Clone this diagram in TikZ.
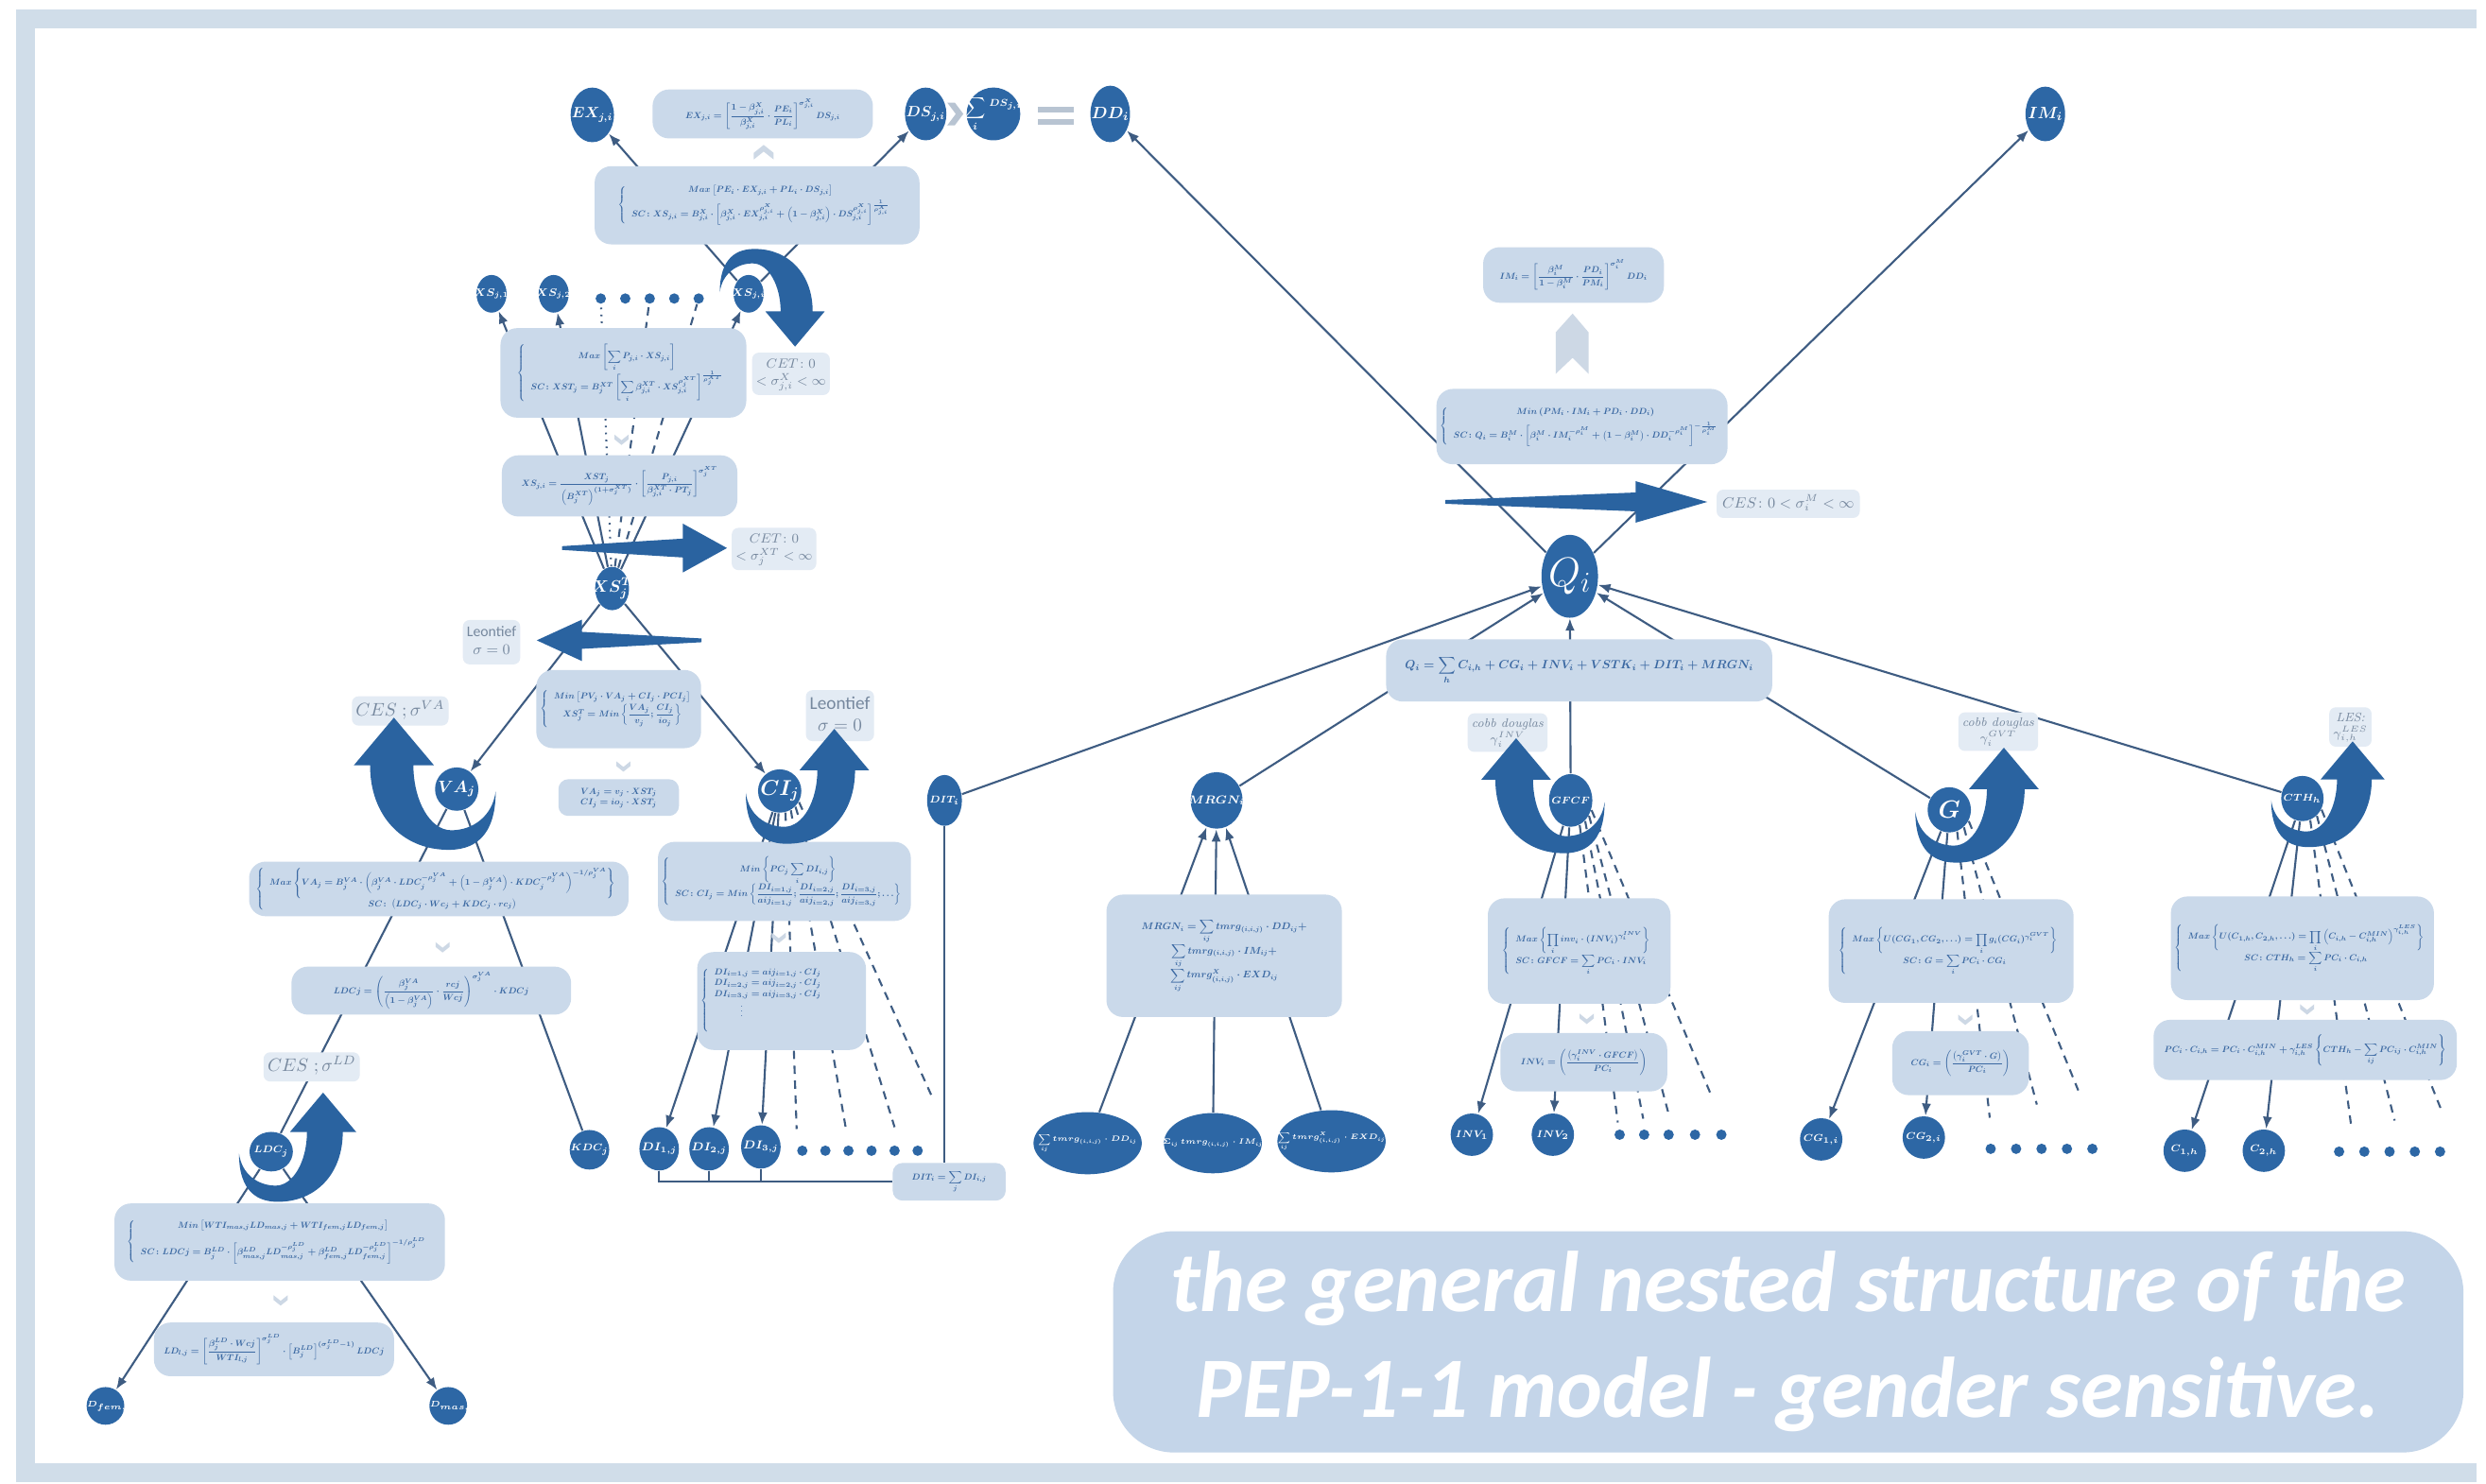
\RequirePackage{fix-cm}
\documentclass[tikz,border=0pt]{standalone}
\usepackage{amsmath}
\usepackage{graphicx}
\usepackage{fontspec}
\newfontfamily\titlefont{Carlito}
\usepackage{tikz}
\usetikzlibrary{arrows.meta,shapes.geometric,backgrounds}
\definecolor{ballblue}{RGB}{45,103,165}
\definecolor{curlblue}{RGB}{42,99,160}
\definecolor{boxblue}{RGB}{202,217,234}
\definecolor{boxtext}{RGB}{58,104,162}
\definecolor{labfill}{RGB}{227,235,244}
\definecolor{labtext}{RGB}{118,136,158}
\definecolor{linkblue}{RGB}{62,92,130}
\definecolor{chevgrey}{RGB}{205,216,229}
\definecolor{eqgrey}{RGB}{184,196,210}
\definecolor{frameblue}{RGB}{208,221,233}
\definecolor{titleblue}{RGB}{196,213,233}
\newcommand{\ballText}[1]{\makebox[0pt]{\scalebox{0.5}{#1}}}
\newcommand{\sm}[1]{\scalebox{0.33}{\begin{tabular}{@{}c@{}}#1\end{tabular}}}
\newcommand{\lb}[1]{\scalebox{0.5}{\begin{tabular}{@{}c@{}}#1\end{tabular}}}
\newcommand{\bsize}[2]{\boldmath\fontsize{#1}{#2}\selectfont}
\tikzset{
  curlarrow/.pic={
    \fill[curlblue] (-0.36,0.02) .. controls (-0.36,0.45) and (-0.15,0.57) .. (0.10,0.56)
      .. controls (0.50,0.55) and (0.80,0.25) .. (0.80,-0.22) -- (0.95,-0.22) -- (0.58,-0.66)
      -- (0.21,-0.22) -- (0.40,-0.22) .. controls (0.40,0.10) and (0.25,0.38) .. (0.05,0.38)
      .. controls (-0.15,0.38) and (-0.33,0.25) .. cycle;
  },
  chevdown/.pic={
    \fill[chevgrey] (-0.075,-0.045) -- (0,0.015) -- (0.075,-0.045) -- (0.075,0.005) -- (0,0.065) -- (-0.075,0.005) -- cycle;
  }
}
\begin{document}
\begin{tikzpicture}[x=1cm, y=-1cm,
  ball/.style={ellipse, fill=ballblue, text=white, inner sep=0pt, font=\bsize{8}{9}},
  eqbox/.style={rounded corners=5pt, fill=boxblue, text=boxtext, inner sep=1pt, align=center, font=\bsize{8}{10}},
  lab/.style={rounded corners=2pt, fill=labfill, text=labtext, inner sep=1.2pt, align=center, font=\fontsize{8}{10}\selectfont},
  blob/.style={circle, fill=ballblue, inner sep=0pt, minimum size=1.1mm},
  link/.style={draw=linkblue, line width=0.6pt},
  arr/.style={link, -{Latex[length=1.3mm,width=1mm]}},
  dashlink/.style={link, dash pattern=on 2.5pt off 2pt},
  dotlink/.style={link, dash pattern=on 0.5pt off 1.6pt},
  title/.style={rounded corners=0.65cm, fill=titleblue, text=white, align=center, minimum width=14.34cm, minimum height=2.35cm, font=\titlefont\bfseries\itshape\fontsize{26}{32}\selectfont}
]
\begin{scope}[on background layer]
\fill[white] (0,0) rectangle (26.3,15.75);
\draw[frameblue, line width=0.2cm] (26.3,15.64) -- (0.27,15.64) -- (0.27,0.20) -- (26.3,0.20);
\end{scope}
\useasboundingbox (0,0) rectangle (26.3,15.75);

% export / domestic split
\node[ball, minimum width=4.6mm, minimum height=5.8mm, font=\bsize{9}{10}] (EX) at (6.29,1.22) {\ballText{$EX_{j,i}$}};
\node[eqbox, minimum width=2.34cm, minimum height=0.52cm] (exBox) at (8.10,1.21) {\sm{$EX_{j,i}=\left[\dfrac{1-\beta^X_{j,i}}{\beta^X_{j,i}}\cdot\dfrac{PE_i}{PL_i}\right]^{\sigma^X_{j,i}}DS_{j,i}$}};
\node[ball, minimum width=4.4mm, minimum height=5.6mm, font=\bsize{9}{10}] (DS) at (9.83,1.21) {\ballText{$DS_{j,i}$}};
\node[ball, minimum width=5.7mm, minimum height=5.6mm, font=\bsize{9}{10}] (sumDS) at (10.55,1.21) {\ballText{$\displaystyle\sum_i{}^{DS_{j,i}}$}};
\node[ball, minimum width=4.2mm, minimum height=6mm, font=\bsize{10}{11}] (DD) at (11.79,1.21) {\ballText{$DD_i$}};
\node[ball, minimum width=4.2mm, minimum height=5.8mm, font=\bsize{10}{11}] (IM) at (21.72,1.21) {\ballText{$IM_i$}};
\node[eqbox, minimum width=3.45cm, minimum height=0.83cm] (cetBox) at (8.04,2.18) {\sm{$\left\{\begin{array}{c}Max\left[PE_i\cdot EX_{j,i}+PL_i\cdot DS_{j,i}\right]\\[4pt] SC\colon XS_{j,i}=B^X_{j,i}\cdot\left[\beta^X_{j,i}\cdot EX_{j,i}^{\rho^X_{j,i}}+\left(1-\beta^X_{j,i}\right)\cdot DS_{j,i}^{\rho^X_{j,i}}\right]^{\frac{1}{\rho^X_{j,i}}}\end{array}\right.$}};

% sectoral supply
\node[ball, minimum width=3.2mm, minimum height=4mm, font=\bsize{6.5}{7}] (XSone) at (5.22,3.12) {\ballText{$XS_{j,1}$}};
\node[ball, minimum width=3.2mm, minimum height=4mm, font=\bsize{6.5}{7}] (XStwo) at (5.88,3.12) {\ballText{$XS_{j,2}$}};
\node[ball, minimum width=3.2mm, minimum height=4mm, font=\bsize{6.5}{7}] (XSi) at (7.95,3.12) {\ballText{$XS_{j,i}$}};
\foreach \i/\x in {1/6.38,2/6.64,3/6.90,4/7.16,5/7.42}
  \node[blob] (xd\i) at (\x,3.17) {};
\node[eqbox, minimum width=2.61cm, minimum height=0.95cm] (xstBox) at (6.62,3.96) {\sm{$\left\{\begin{array}{c}Max\left[\displaystyle\sum_i P_{j,i}\cdot XS_{j,i}\right]\\[4pt] SC\colon XST_j=B^{XT}_j\left[\displaystyle\sum_i\beta^{XT}_{j,i}\cdot XS_{j,i}^{\rho^{XT}_j}\right]^{\frac{1}{\rho^{XT}_j}}\end{array}\right.$}};
\node[eqbox, minimum width=2.50cm, minimum height=0.65cm] (xsBox) at (6.58,5.16) {\sm{$XS_{j,i}=\dfrac{XST_j}{\left(B^{XT}_j\right)^{(1+\sigma^{XT}_j)}}\cdot\left[\dfrac{P_{j,i}}{\beta^{XT}_{j,i}\cdot PT_j}\right]^{\sigma^{XT}_j}$}};
\node[ball, minimum width=3.6mm, minimum height=4.6mm, font=\bsize{10}{11}] (XST) at (6.50,6.25) {\ballText{$XS^T_j$}};
\node[lab] (cetOne) at (8.40,3.97) {\lb{$CET\colon 0$\\$<\sigma^X_{j,i}<\infty$}};
\node[lab] (cetTwo) at (8.22,5.83) {\lb{$CET\colon 0$\\$<\sigma^{XT}_j<\infty$}};
\node[lab, font=\titlefont\fontsize{9}{11}\selectfont] (leonOne) at (5.22,6.82) {\lb{Leontief\\$\sigma=0$}};

% value added and intermediate
\node[eqbox, minimum width=1.75cm, minimum height=0.83cm] (minBox) at (6.57,7.53) {\sm{$\left\{\begin{array}{c}Min\left[PV_j\cdot VA_j+CI_j\cdot PCI_j\right]\\[2pt] XS^T_j=Min\left\{\dfrac{VA_j}{v_j};\dfrac{CI_j}{io_j}\right\}\end{array}\right.$}};
\node[eqbox, minimum width=1.28cm, minimum height=0.39cm, rounded corners=3pt] (vaciBox) at (6.57,8.47) {\sm{$VA_j=v_j\cdot XST_j$\\$CI_j=io_j\cdot XST_j$}};
\node[ball, minimum width=4.6mm, minimum height=4.6mm, font=\bsize{10}{11}] (VA) at (4.85,8.38) {\ballText{$VA_j$}};
\node[ball, minimum width=4.6mm, minimum height=4.6mm, font=\bsize{13}{14}] (CI) at (8.28,8.40) {\ballText{$CI_j$}};
\node[lab, font=\fontsize{11}{12}\selectfont] (cesVA) at (4.25,7.55) {\lb{$CES\;;\sigma^{VA}$}};
\node[lab, font=\titlefont\fontsize{11}{13}\selectfont] (leonTwo) at (8.92,7.60) {\lb{Leontief\\$\sigma=0$}};
\node[eqbox, minimum width=4.03cm, minimum height=0.58cm] (vaBox) at (4.66,9.44) {\sm{$\left\{\begin{array}{c}Max\left\{VA_j=B^{VA}_j\cdot\left(\beta^{VA}_j\cdot LDC_j^{-\rho^{VA}_j}+\left(1-\beta^{VA}_j\right)\cdot KDC_j^{-\rho^{VA}_j}\right)^{-1/\rho^{VA}_j}\right\}\\ SC\colon\left(LDC_j\cdot Wc_j+KDC_j\cdot rc_j\right)\end{array}\right.$}};
\node[eqbox, minimum width=2.97cm, minimum height=0.51cm] (ldcBox) at (4.58,10.52) {\sm{$LDCj=\left(\dfrac{\beta^{VA}_j}{\left(1-\beta^{VA}_j\right)}\cdot\dfrac{rcj}{Wcj}\right)^{\sigma^{VA}_j}\cdot KDCj$}};
\node[ball, minimum width=4.2mm, minimum height=4.2mm, font=\bsize{6}{7}] (KDC) at (6.26,12.21) {\ballText{$KDC_j$}};
\node[ball, minimum width=4.6mm, minimum height=4.2mm, font=\bsize{6}{7}] (LDC) at (2.88,12.23) {\ballText{$LDC_j$}};
\node[lab, font=\fontsize{11}{12}\selectfont] (cesLD) at (3.31,11.33) {\lb{$CES\;;\sigma^{LD}$}};
\node[eqbox, minimum width=3.51cm, minimum height=0.82cm] (ldcMin) at (2.97,13.19) {\sm{$\left\{\begin{array}{c}Min\left[WTI_{mas,j}LD_{mas,j}+WTI_{fem,j}LD_{fem,j}\right]\\[6pt] SC\colon LDCj=B^{LD}_j\cdot\left[\beta^{LD}_{mas,j}LD_{mas,j}^{-\rho^{LD}_j}+\beta^{LD}_{fem,j}LD_{fem,j}^{-\rho^{LD}_j}\right]^{-1/\rho^{LD}_j}\end{array}\right.$}};
\node[eqbox, minimum width=2.55cm, minimum height=0.57cm] (ldBox) at (2.91,14.33) {\sm{$LD_{l,j}=\left[\dfrac{\beta^{LD}_j\cdot Wcj}{WTI_{l,j}}\right]^{\sigma^{LD}_j}\cdot\left[B^{LD}_j\right]^{(\sigma^{LD}_j-1)}LDCj$}};
\node[ball, minimum width=4mm, minimum height=4mm, font=\bsize{5}{6}] (LDfem) at (1.12,14.93) {\ballText{$LD_{fem,j}$}};
\node[ball, minimum width=4mm, minimum height=4mm, font=\bsize{5}{6}] (LDmas) at (4.76,14.93) {\ballText{$LD_{mas,j}$}};

\node[eqbox, minimum width=2.58cm, minimum height=0.84cm] (ciMin) at (8.33,9.36) {\sm{$\left\{\begin{array}{c}Min\left\{PC_j\displaystyle\sum_i DI_{i,j}\right\}\\[2pt] SC\colon CI_j=Min\left\{\dfrac{DI_{i=1,j}}{aij_{i=1,j}};\dfrac{DI_{i=2,j}}{aij_{i=2,j}};\dfrac{DI_{i=3,j}}{aij_{i=3,j}};\ldots\right\}\end{array}\right.$}};
\node[eqbox, minimum width=1.72cm, minimum height=1.04cm] (diBox) at (8.30,10.63) {\sm{$\left\{\begin{array}{l}DI_{i=1,j}=aij_{i=1,j}\cdot CI_j\\ DI_{i=2,j}=aij_{i=2,j}\cdot CI_j\\ DI_{i=3,j}=aij_{i=3,j}\cdot CI_j\\ \qquad\quad\vdots\\[14pt]\end{array}\right.\qquad\qquad$}};
\node[ball, minimum width=4.2mm, minimum height=4.6mm, font=\bsize{7}{8}] (DIone) at (7.00,12.20) {\ballText{$DI_{1,j}$}};
\node[ball, minimum width=4.2mm, minimum height=4.6mm, font=\bsize{7}{8}] (DItwo) at (7.53,12.20) {\ballText{$DI_{2,j}$}};
\node[ball, minimum width=4.2mm, minimum height=4.6mm, font=\bsize{7}{8}] (DIthree) at (8.08,12.18) {\ballText{$DI_{3,j}$}};
\foreach \i in {0,...,5}
  \node[blob] (dd\i) at (8.52+0.245*\i,12.22) {};
\node[ball, minimum width=3.7mm, minimum height=5.4mm, font=\bsize{6}{7}] (DIT) at (10.03,8.50) {\ballText{$DIT_i$}};
\node[eqbox, minimum width=1.20cm, minimum height=0.40cm, rounded corners=3pt] (ditBox) at (10.08,12.55) {\sm{$DIT_i=\displaystyle\sum_j DI_{i,j}$}};

% margins
\node[ball, minimum width=5.5mm, minimum height=6mm, font=\bsize{7}{8}] (MRGN) at (12.92,8.50) {\ballText{$MRGN_i$}};
\node[eqbox, minimum width=2.50cm, minimum height=1.30cm, font=\bsize{9}{12}] (mrgBox) at (13.00,10.15) {\sm{$MRGN_i=\displaystyle\sum_{ij}tmrg_{(i,i,j)}\cdot DD_{ij}+$\\$\displaystyle\sum_{ij}tmrg_{(i,i,j)}\cdot IM_{ij}+$\\$\displaystyle\sum_{ij}tmrg^X_{(i,i,j)}\cdot EXD_{ij}$}};
\node[ball, minimum width=11.5mm, minimum height=6.6mm, font=\bsize{4.6}{5}] (mrgA) at (11.55,12.14) {\ballText{$\displaystyle\sum_{ij}tmrg_{(i,i,j)}\cdot DD_{ij}$}};
\node[ball, minimum width=10.4mm, minimum height=6.4mm, font=\bsize{4.6}{5}] (mrgB) at (12.88,12.14) {\ballText{$\Sigma_{ij}\,tmrg_{(i,i,j)}\cdot IM_{ij}$}};
\node[ball, minimum width=11.5mm, minimum height=6.6mm, font=\bsize{4.6}{5}] (mrgC) at (14.14,12.12) {\ballText{$\displaystyle\sum_{ij}tmrg^X_{(i,i,j)}\cdot EXD_{ij}$}};

% composite good
\node[ball, minimum width=6mm, minimum height=8.8mm, font=\fontsize{25}{26}\selectfont] (Q) at (16.67,6.12) {\ballText{$Q_i$}};
\node[eqbox, minimum width=4.10cm, minimum height=0.66cm, font=\bsize{11}{12}] (qBox) at (16.77,7.12) {\sm{$Q_i=\displaystyle\sum_h C_{i,h}+CG_i+INV_i+VSTK_i+DIT_i+MRGN_i$}};
\node[eqbox, minimum width=3.06cm, minimum height=0.80cm] (imMin) at (16.80,4.53) {\sm{$\left\{\begin{array}{c}Min\left(PM_i\cdot IM_i+PD_i\cdot DD_i\right)\\[4pt] SC\colon Q_i=B^M_i\cdot\left[\beta^M_i\cdot IM_i^{-\rho^M_i}+\left(1-\beta^M_i\right)\cdot DD_i^{-\rho^M_i}\right]^{-\frac{1}{\rho^M_i}}\end{array}\right.$}};
\node[eqbox, minimum width=1.92cm, minimum height=0.59cm] (imBox) at (16.71,2.92) {\sm{$IM_i=\left[\dfrac{\beta^M_i}{1-\beta^M_i}\cdot\dfrac{PD_i}{PM_i}\right]^{\sigma^M_i}DD_i$}};
\node[lab, font=\fontsize{9}{10}\selectfont, minimum width=1.52cm, minimum height=0.30cm] (cesM) at (18.99,5.35) {\lb{$CES\colon 0<\sigma^M_i<\infty$}};

% investment
\node[ball, minimum width=4.6mm, minimum height=5.6mm, font=\bsize{6}{7}] (GFCF) at (16.68,8.50) {\ballText{$GFCF$}};
\node[lab, font=\itshape\fontsize{7.5}{9}\selectfont] (cobbINV) at (16.01,7.78) {\lb{cobb douglas\\$\gamma^{INV}_i$}};
\node[eqbox, minimum width=1.94cm, minimum height=1.12cm] (gfcfBox) at (16.77,10.10) {\sm{$\left\{\begin{array}{l}Max\left\{\displaystyle\prod_i inv_i\cdot\left(INV_i\right)^{\gamma^{INV}_i}\right\}\\[4pt] SC\colon GFCF=\displaystyle\sum_i PC_i\cdot INV_i\end{array}\right.$}};
\node[eqbox, minimum width=1.77cm, minimum height=0.62cm] (invBox) at (16.82,11.28) {\sm{$INV_i=\left(\dfrac{\left(\gamma^{INV}_i\cdot GFCF\right)}{PC_i}\right)$}};
\node[ball, minimum width=4.5mm, minimum height=4.5mm, font=\bsize{6}{7}] (INVone) at (15.63,12.05) {\ballText{$INV_1$}};
\node[ball, minimum width=4.5mm, minimum height=4.5mm, font=\bsize{6}{7}] (INVtwo) at (16.49,12.05) {\ballText{$INV_2$}};
\foreach \i/\x in {1/17.20,2/17.46,3/17.72,4/18.00,5/18.28}
  \node[blob] (id\i) at (\x,12.05) {};

% government
\node[ball, minimum width=4.6mm, minimum height=4.8mm, font=\bsize{15}{16}] (G) at (20.70,8.60) {\ballText{$G$}};
\node[lab, font=\itshape\fontsize{7.5}{9}\selectfont] (cobbGVT) at (21.22,7.77) {\lb{cobb douglas\\$\gamma^{GVT}_i$}};
\node[eqbox, minimum width=2.60cm, minimum height=1.10cm] (gBox) at (20.72,10.10) {\sm{$\left\{\begin{array}{c}Max\left\{U(CG_1,CG_2,\ldots)=\displaystyle\prod_i g_i(CG_i)^{\gamma^{GVT}_i}\right\}\\[4pt] SC\colon G=\displaystyle\sum_i PC_i\cdot CG_i\end{array}\right.$}};
\node[eqbox, minimum width=1.45cm, minimum height=0.68cm] (cgBox) at (20.82,11.29) {\sm{$CG_i=\left(\dfrac{\left(\gamma^{GVT}_i\cdot G\right)}{PC_i}\right)$}};
\node[ball, minimum width=4.5mm, minimum height=4.5mm, font=\bsize{6}{7}] (CGone) at (19.34,12.10) {\ballText{$CG_{1,i}$}};
\node[ball, minimum width=4.5mm, minimum height=4.5mm, font=\bsize{6}{7}] (CGtwo) at (20.43,12.08) {\ballText{$CG_{2,i}$}};
\foreach \i/\x in {1/21.14,2/21.41,3/21.68,4/21.95,5/22.22}
  \node[blob] (gd\i) at (\x,12.20) {};

% households
\node[ball, minimum width=4.5mm, minimum height=4.8mm, font=\bsize{6}{7}] (CTH) at (24.45,8.48) {\ballText{$CTH_h$}};
\node[lab, font=\itshape\fontsize{7.5}{9}\selectfont] (lesLab) at (24.96,7.72) {\lb{LES:\\$\gamma^{LES}_{i,h}$}};
\node[eqbox, minimum width=2.66cm, minimum height=1.10cm] (cthBox) at (24.45,10.07) {\sm{$\left\{\begin{array}{c}Max\left\{U(C_{1,h},C_{2,h},\ldots)=\displaystyle\prod_i\left(C_{i,h}-C^{MIN}_{i,h}\right)^{\gamma^{LES}_{i,h}}\right\}\\[4pt] SC\colon CTH_h=\displaystyle\sum_i PC_i\cdot C_{i,h}\end{array}\right.$}};
\node[eqbox, minimum width=3.22cm, minimum height=0.64cm] (pcBox) at (24.48,11.15) {\sm{$PC_i\cdot C_{i,h}=PC_i\cdot C^{MIN}_{i,h}+\gamma^{LES}_{i,h}\left\{CTH_h-\displaystyle\sum_{ij}PC_{ij}\cdot C^{MIN}_{i,h}\right\}$}};
\node[ball, minimum width=4.5mm, minimum height=4.5mm, font=\bsize{6}{7}] (Cone) at (23.20,12.22) {\ballText{$C_{1,h}$}};
\node[ball, minimum width=4.5mm, minimum height=4.5mm, font=\bsize{6}{7}] (Ctwo) at (24.04,12.22) {\ballText{$C_{2,h}$}};
\foreach \i in {0,...,4}
  \node[blob] (cd\i) at (24.84+0.268*\i,12.23) {};

\coordinate (ce1) at (8.46,11.99);
\coordinate (ce2) at (8.98,11.97);
\coordinate (ce3) at (9.50,11.97);
\coordinate (ce4) at (9.89,11.63);
\coordinate (ge1) at (17.18,11.92);
\coordinate (ge2) at (17.45,11.88);
\coordinate (ge3) at (17.72,11.83);
\coordinate (ge4) at (18.18,11.65);
\coordinate (ve1) at (21.13,11.87);
\coordinate (ve2) at (21.63,11.73);
\coordinate (ve3) at (22.07,11.58);
\coordinate (he1) at (24.97,11.97);
\coordinate (he2) at (25.43,11.90);
\coordinate (he3) at (25.93,11.80);

\begin{scope}[on background layer]
\draw[arr] (XSi) -- (EX);
\draw[arr] (XSi) -- (DS);
\draw[arr] (XST) -- (XSone);
\draw[arr] (XST) -- (XStwo);
\draw[arr] (XST) -- (XSi);
\draw[dotlink] (XST) -- (xd1);
\draw[dashlink] (XST) -- (xd3);
\draw[dashlink] (XST) -- (xd5);
\draw[arr] (XST) -- (VA);
\draw[arr] (XST) -- (CI);
\draw[link] (VA) -- (LDC);
\draw[link] (VA) -- (KDC);
\draw[arr] (LDC) -- (LDfem);
\draw[arr] (LDC) -- (LDmas);
\draw[arr] (CI) -- (DIone);
\draw[arr] (CI) -- (DItwo);
\draw[arr] (CI) -- (DIthree);
\foreach \a/\e in {-75/ce1,-60/ce2,-45/ce3,-30/ce4}
  \draw[dashlink] (CI.\a) -- (\e);
\draw[link] (DIone.south) |- (ditBox.west);
\draw[link] (DItwo.south) -- (DItwo.south |- ditBox.west);
\draw[link] (DIthree.south) -- (DIthree.south |- ditBox.west);
\draw[link] (DIT) -- (DIT |- ditBox.north);
\draw[arr] (DIT) -- (Q);
\draw[arr] (MRGN) -- (Q);
\draw[arr] (GFCF) -- (Q);
\draw[arr] (G) -- (Q);
\draw[arr] (CTH) -- (Q);
\draw[arr] (mrgA) -- (MRGN);
\draw[arr] (mrgB) -- (MRGN);
\draw[arr] (mrgC) -- (MRGN);
\draw[arr] (GFCF) -- (INVone);
\draw[arr] (GFCF) -- (INVtwo);
\foreach \a/\e in {-70/ge1,-55/ge2,-40/ge3,-25/ge4}
  \draw[dashlink] (GFCF.\a) -- (\e);
\draw[arr] (G) -- (CGone);
\draw[arr] (G) -- (CGtwo);
\foreach \a/\e in {-70/ve1,-50/ve2,-30/ve3}
  \draw[dashlink] (G.\a) -- (\e);
\draw[arr] (CTH) -- (Cone);
\draw[arr] (CTH) -- (Ctwo);
\foreach \a/\e in {-70/he1,-50/he2,-30/he3}
  \draw[dashlink] (CTH.\a) -- (\e);
\draw[arr] (Q) -- (DD);
\draw[arr] (Q) -- (IM);
\end{scope}

\pic[yscale=-1, scale=0.85] at (XSi) {curlarrow};
\pic[xscale=-1, scale=1.15] at (VA) {curlarrow};
\pic at (CI) {curlarrow};
\pic[scale=0.95] at (LDC) {curlarrow};
\pic[xscale=-1] at (GFCF) {curlarrow};
\pic at (G) {curlarrow};
\pic[scale=0.92] at (CTH) {curlarrow};

\fill[curlblue] (5.97,5.80) -- (7.25,5.72) -- (7.25,5.56) -- (7.72,5.82) -- (7.25,6.08) -- (7.25,5.92) -- (5.97,5.84) -- cycle;
\fill[curlblue] (7.45,6.78) -- (6.18,6.71) -- (6.18,6.58) -- (5.70,6.80) -- (6.18,7.02) -- (6.18,6.89) -- (7.45,6.82) -- cycle;
\fill[curlblue] (15.35,5.31) -- (17.37,5.23) -- (17.37,5.11) -- (18.13,5.33) -- (17.37,5.55) -- (17.37,5.43) -- (15.35,5.35) -- cycle;

\pic[yscale=-1, scale=1.4] at (8.11,1.63) {chevdown};
\foreach \p in {(6.60,4.66),(6.62,8.13),(4.70,10.05),(2.98,13.80),(8.27,9.95),(16.85,10.81),(20.87,10.82),(24.50,10.71)}
  \pic at \p {chevdown};
\fill[chevgrey] (16.52,3.97) -- (16.52,3.53) -- (16.70,3.33) -- (16.87,3.53) -- (16.87,3.97) -- (16.70,3.80) -- cycle;
\fill[eqgrey] (10.06,1.09) -- (10.14,1.09) -- (10.23,1.21) -- (10.14,1.33) -- (10.06,1.33) -- (10.15,1.21) -- cycle;
\fill[eqgrey] (11.02,1.13) rectangle (11.40,1.19);
\fill[eqgrey] (11.02,1.26) rectangle (11.40,1.32);

\node[title] (caption) at (18.99,14.25) {the general nested structure of the\\PEP-1-1 model - gender sensitive.};
\end{tikzpicture}
\end{document}
